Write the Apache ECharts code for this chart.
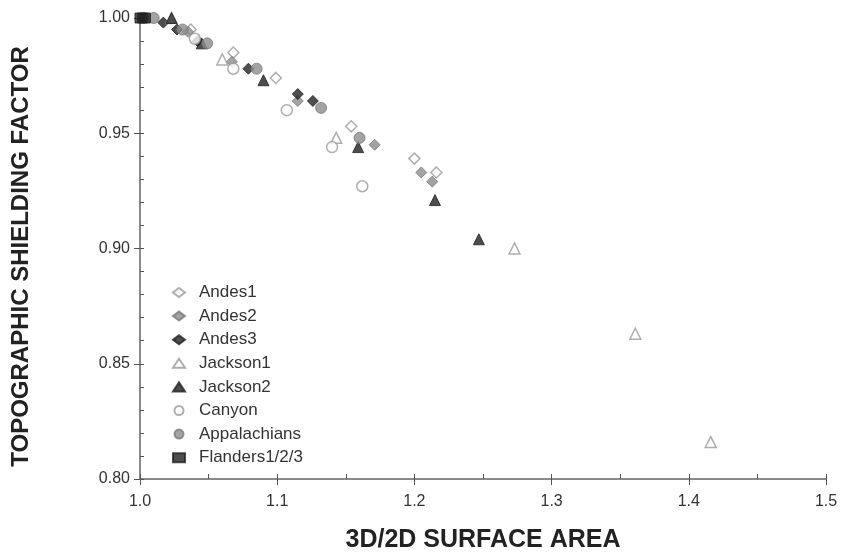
<!DOCTYPE html>
<html>
<head>
<meta charset="utf-8">
<script src="https://cdn.jsdelivr.net/npm/echarts@6/dist/echarts.min.js"></script>
<style>html,body{margin:0;padding:0;background:#fff}#c{width:841px;height:558px}</style>
</head>
<body>
<div id="c"></div>
<script>
// Data: [3D/2D surface area, topographic shielding factor]
const andes1 = [[1.037,0.995],[1.068,0.985],[1.099,0.974],[1.154,0.953],[1.200,0.939],[1.216,0.933]];
const andes2 = [[1.035,0.994],[1.067,0.981],[1.115,0.964],[1.171,0.945],[1.205,0.933],[1.213,0.929]];
const andes3 = [[1.017,0.998],[1.027,0.995],[1.042,0.990],[1.079,0.978],[1.115,0.967],[1.126,0.964]];
const jackson1 = [[1.023,1.000],[1.060,0.982],[1.143,0.948],[1.273,0.900],[1.361,0.863],[1.416,0.816]];
const jackson2 = [[1.023,1.000],[1.045,0.989],[1.090,0.973],[1.159,0.944],[1.215,0.921],[1.247,0.904]];
const canyon = [[1.040,0.991],[1.068,0.978],[1.107,0.960],[1.140,0.944],[1.162,0.927]];
const appalachians = [[1.010,1.000],[1.031,0.995],[1.049,0.989],[1.085,0.978],[1.132,0.961],[1.160,0.948]];
const flanders = [[1.000,1.000],[1.002,1.000],[1.004,1.000]];
const seriesNames = ['Andes1','Andes2','Andes3','Jackson1','Jackson2','Canyon','Appalachians','Flanders1/2/3'];
const xTicks = {min:1.0, max:1.5, interval:0.1};
const yTicks = {min:0.80, max:1.00, interval:0.05};

const font = '"Liberation Sans", Arial, sans-serif';
const openStyle = {color:'#ffffff', borderColor:'#9a9a9a', borderWidth:1.5};
const greyStyle = {color:'#8c8c8c', borderColor:'#7a7a7a', borderWidth:1};
const blackStyle = {color:'#222222', borderColor:'#222222', borderWidth:1};

function s(name, data, symbol, size, style){
  return {name, type:'scatter', data, symbol, symbolSize:size, itemStyle:style, xAxisIndex:0, yAxisIndex:0};
}
const series = [
  s(seriesNames[0], andes1, 'diamond', 11, openStyle),
  s(seriesNames[1], andes2, 'diamond', 11, greyStyle),
  s(seriesNames[2], andes3, 'diamond', 11, blackStyle),
  s(seriesNames[3], jackson1, 'triangle', 11, openStyle),
  s(seriesNames[4], jackson2, 'triangle', 11, blackStyle),
  s(seriesNames[5], canyon, 'circle', 11, openStyle),
  s(seriesNames[6], appalachians, 'circle', 11, greyStyle),
  s(seriesNames[7], flanders, 'rect', 10, blackStyle)
];

const chart = echarts.init(document.getElementById('c'));
chart.setOption({
  animation:false,
  backgroundColor:'#ffffff',
  grid:{left:140, right:15, top:18, bottom:74, containLabel:false},
  legend:{
    orient:'vertical', left:167, top:279, selectedMode:false,
    itemWidth:12, itemHeight:9, itemGap:6.6,
    textStyle:{fontFamily:font, fontSize:17, color:'#333', lineHeight:17, padding:[0,0,0,9]},
    data:seriesNames
  },
  xAxis:[{
    type:'value', min:xTicks.min, max:xTicks.max, interval:xTicks.interval,
    name:'3D/2D SURFACE AREA', nameLocation:'middle', nameGap:49,
    nameTextStyle:{fontFamily:font, fontSize:25, fontWeight:'bold', color:'#222'},
    axisLine:{show:true, lineStyle:{color:'#8a8a8a', width:2}},
    axisTick:{show:true, length:6, lineStyle:{color:'#555', width:1}},
    axisLabel:{fontFamily:font, fontSize:16, color:'#333', margin:15, formatter:v=>v.toFixed(1)},
    splitLine:{show:false}
  },{
    type:'value', min:xTicks.min, max:xTicks.max, interval:0.05, position:'bottom',
    axisLine:{show:false}, axisTick:{show:true, inside:true, length:5, lineStyle:{color:'#555', width:1}},
    axisLabel:{show:false}, splitLine:{show:false}
  }],
  yAxis:[{
    type:'value', min:yTicks.min, max:yTicks.max, interval:yTicks.interval,
    name:'TOPOGRAPHIC SHIELDING FACTOR', nameLocation:'middle', nameGap:107, nameRotate:90,
    nameTextStyle:{fontFamily:font, fontSize:24, fontWeight:'bold', color:'#222', padding:[0,16,0,0]},
    axisLine:{show:true, lineStyle:{color:'#8a8a8a', width:2}},
    axisTick:{show:true, length:6, lineStyle:{color:'#555', width:1}},
    axisLabel:{fontFamily:font, fontSize:16, color:'#333', margin:10, formatter:v=>v.toFixed(2)},
    splitLine:{show:false}
  },{
    type:'value', min:yTicks.min, max:yTicks.max, interval:0.01, position:'left',
    axisLine:{show:false}, axisTick:{show:true, inside:true, length:4, lineStyle:{color:'#555', width:1}},
    axisLabel:{show:false}, splitLine:{show:false}
  }],
  series
});
</script>
</body>
</html>
